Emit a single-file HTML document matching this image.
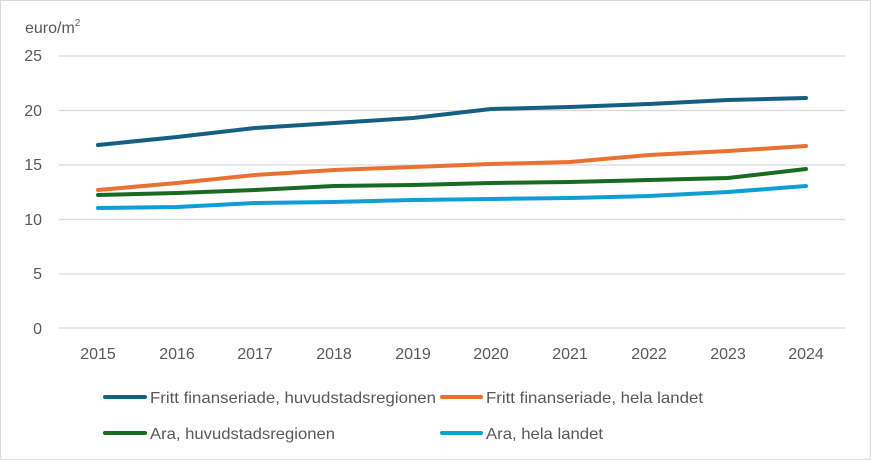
<!DOCTYPE html>
<html><head><style>body{margin:0;background:#fff}svg{display:block;font-family:"Liberation Sans",sans-serif}</style></head><body>
<svg width="871" height="460" viewBox="0 0 871 460">
<rect x="0.5" y="0.5" width="870" height="459" fill="#fff" stroke="#d9d9d9"/>
<g fill="#595959" font-size="16">
<text x="25" y="33">euro/m<tspan font-size="10" dy="-7">2</tspan></text>
<g text-anchor="end"><text x="42" y="61">25</text><text x="42" y="116">20</text><text x="42" y="170">15</text><text x="42" y="225">10</text><text x="42" y="279">5</text><text x="42" y="334">0</text></g>
<g text-anchor="middle"><text x="98" y="359">2015</text><text x="177" y="359">2016</text><text x="255" y="359">2017</text><text x="334" y="359">2018</text><text x="413" y="359">2019</text><text x="491" y="359">2020</text><text x="570" y="359">2021</text><text x="649" y="359">2022</text><text x="728" y="359">2023</text><text x="806" y="359">2024</text></g>
</g>
<g stroke="#d9d9d9" stroke-width="1.3"><line x1="59" x2="845" y1="56" y2="56"/><line x1="59" x2="845" y1="110.5" y2="110.5"/><line x1="59" x2="845" y1="165" y2="165"/><line x1="59" x2="845" y1="219.5" y2="219.5"/><line x1="59" x2="845" y1="274" y2="274"/><line x1="59" x2="845" y1="328" y2="328"/></g>
<g fill="none" stroke-width="4" stroke-linejoin="round" stroke-linecap="round">
<polyline stroke="#156082" points="98,145 177,137 255,128 334,123 413,118 491,109 570,107 649,104 728,100 806,98"/>
<polyline stroke="#e97132" points="98,190 177,183 255,175 334,170 413,167 491,164 570,162 649,155 728,151 806,146"/>
<polyline stroke="#196b24" points="98,195 177,193 255,190 334,186 413,185 491,183 570,182 649,180 728,178 806,169"/>
<polyline stroke="#0f9ed5" points="98,208 177,207 255,203 334,202 413,200 491,199 570,198 649,196 728,192 806,186"/>
</g>
<g stroke-width="4" stroke-linecap="round"><line x1="105" x2="145" y1="397" y2="397" stroke="#156082"/><line x1="442" x2="481" y1="397" y2="397" stroke="#e97132"/><line x1="105" x2="145" y1="433" y2="433" stroke="#196b24"/><line x1="442" x2="481" y1="433" y2="433" stroke="#0f9ed5"/></g>
<g fill="#595959" font-size="16"><text x="150" y="403" textLength="286" lengthAdjust="spacingAndGlyphs">Fritt finanseriade, huvudstadsregionen</text><text x="486" y="403" textLength="217" lengthAdjust="spacingAndGlyphs">Fritt finanseriade, hela landet</text><text x="150" y="439" textLength="185" lengthAdjust="spacingAndGlyphs">Ara, huvudstadsregionen</text><text x="486" y="439" textLength="117" lengthAdjust="spacingAndGlyphs">Ara, hela landet</text></g>
</svg></body></html>
